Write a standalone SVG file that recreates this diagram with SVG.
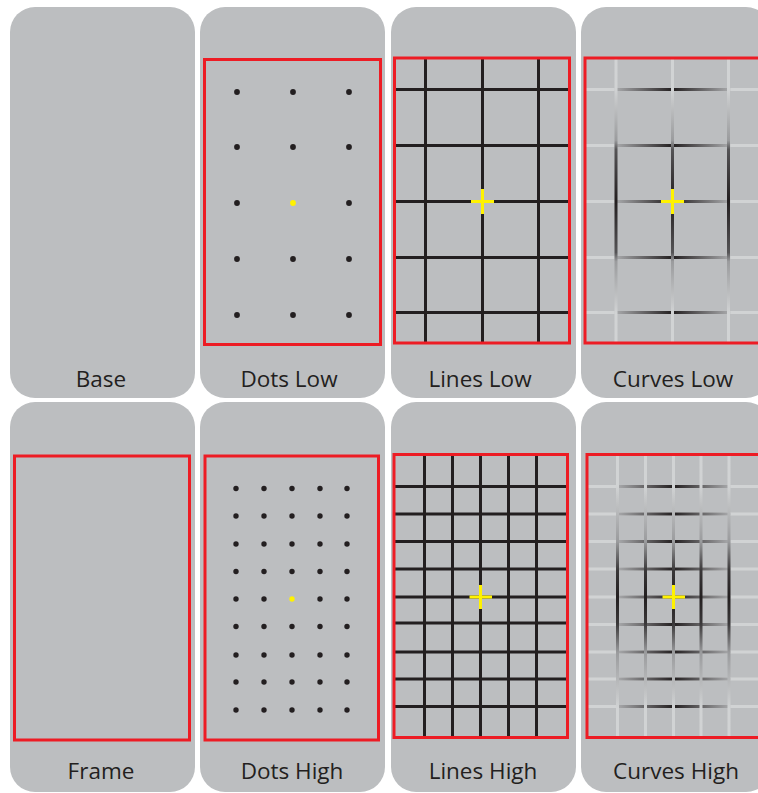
<svg xmlns="http://www.w3.org/2000/svg" width="758" height="793" viewBox="0 0 758 793">
<style>
.panel{fill:#BCBEC0}
.frame{fill:none;stroke:#ED1C24;stroke-width:3}
.lbl{font-family:"Open Sans","Noto Sans","Liberation Sans",sans-serif;font-size:22.5px;fill:#231F20;text-anchor:middle}
.dot{fill:#231F20}
.ydot{fill:#FFF200}
.ln{stroke:#231F20;stroke-width:3;fill:none}
.cross{stroke:#FFF200;stroke-width:3;fill:none}
</style>
<defs>
<linearGradient id="hLow" gradientUnits="userSpaceOnUse" x1="614" y1="0" x2="731" y2="0">
<stop offset="0" stop-color="#D1D3D4"/><stop offset="0.03" stop-color="#A4A5A7"/><stop offset="0.5" stop-color="#231F20"/><stop offset="0.97" stop-color="#A4A5A7"/><stop offset="1" stop-color="#D1D3D4"/>
</linearGradient>
<linearGradient id="vLow" gradientUnits="userSpaceOnUse" x1="0" y1="89" x2="0" y2="313">
<stop offset="0" stop-color="#D1D3D4"/><stop offset="0.23" stop-color="#9A9B9D"/><stop offset="0.27" stop-color="#555456"/><stop offset="0.5" stop-color="#231F20"/><stop offset="0.73" stop-color="#555456"/><stop offset="0.77" stop-color="#9A9B9D"/><stop offset="1" stop-color="#D1D3D4"/>
</linearGradient>
<linearGradient id="hHigh" gradientUnits="userSpaceOnUse" x1="616" y1="0" x2="731" y2="0">
<stop offset="0" stop-color="#D1D3D4"/><stop offset="0.03" stop-color="#A4A5A7"/><stop offset="0.5" stop-color="#231F20"/><stop offset="0.97" stop-color="#A4A5A7"/><stop offset="1" stop-color="#D1D3D4"/>
</linearGradient>
<linearGradient id="vHigh" gradientUnits="userSpaceOnUse" x1="0" y1="486" x2="0" y2="708">
<stop offset="0" stop-color="#D1D3D4"/><stop offset="0.25" stop-color="#9A9B9D"/><stop offset="0.38" stop-color="#3A3839"/><stop offset="0.5" stop-color="#231F20"/><stop offset="0.62" stop-color="#3A3839"/><stop offset="0.75" stop-color="#9A9B9D"/><stop offset="1" stop-color="#D1D3D4"/>
</linearGradient>
</defs>
<rect width="758" height="793" fill="#FFFFFF"/>

<g id="base">
<rect class="panel" x="10" y="7" width="185" height="391" rx="25"/>
<text class="lbl" x="101" y="387">Base</text>
</g>

<g id="dots-low">
<rect class="panel" x="200" y="7" width="185" height="391" rx="25"/>
<rect class="frame" x="204.5" y="59.5" width="176" height="285"/>
<g>
<circle class="dot" cx="237" cy="92" r="2.9"/><circle class="dot" cx="293" cy="92" r="2.9"/><circle class="dot" cx="349" cy="92" r="2.9"/>
<circle class="dot" cx="237" cy="147" r="2.9"/><circle class="dot" cx="293" cy="147" r="2.9"/><circle class="dot" cx="349" cy="147" r="2.9"/>
<circle class="dot" cx="237" cy="203" r="2.9"/><circle class="ydot" cx="293" cy="203" r="2.9"/><circle class="dot" cx="349" cy="203" r="2.9"/>
<circle class="dot" cx="237" cy="259" r="2.9"/><circle class="dot" cx="293" cy="259" r="2.9"/><circle class="dot" cx="349" cy="259" r="2.9"/>
<circle class="dot" cx="237" cy="315" r="2.9"/><circle class="dot" cx="293" cy="315" r="2.9"/><circle class="dot" cx="349" cy="315" r="2.9"/>
</g>
<text class="lbl" x="289" y="387">Dots Low</text>
</g>

<g id="lines-low">
<rect class="panel" x="391" y="7" width="185" height="391" rx="25"/>
<path class="ln" d="M425.5 58V343M482.5 58V343M538.5 58V343M396 89.5H570M396 145.5H570M396 201.5H570M396 257.5H570M396 312.5H570"/>
<path class="cross" d="M471 201.5H494M482.5 189V214"/>
<rect class="frame" x="394.5" y="58" width="175" height="285"/>
<text class="lbl" x="480" y="387">Lines Low</text>
</g>

<g id="curves-low">
<rect class="panel" x="581" y="7" width="190" height="391" rx="25"/>
<g stroke-width="3" fill="none">
<path stroke="#D1D3D4" d="M585 89.5H760M585 145.5H760M585 201.5H760M585 257.5H760M585 312.5H760"/>
<path stroke="url(#hLow)" d="M614 89.5H731M614 145.5H731M614 201.5H731M614 257.5H731M614 312.5H731"/>
<path stroke="url(#vLow)" d="M616 58V343M672.5 58V343M728.5 58V343"/>
</g>
<path class="cross" d="M661 201.5H684M672.5 189V214"/>
<rect class="frame" x="585" y="58" width="185" height="285"/>
<text class="lbl" x="673" y="387">Curves Low</text>
</g>

<g id="frame">
<rect class="panel" x="10" y="402" width="185" height="390" rx="25"/>
<rect class="frame" x="14.5" y="456" width="175" height="284"/>
<text class="lbl" x="101" y="779">Frame</text>
</g>

<g id="dots-high">
<rect class="panel" x="200" y="402" width="185" height="390" rx="25"/>
<rect class="frame" x="205" y="456" width="173.5" height="284"/>
<g>
<circle class="dot" cx="236" cy="488.5" r="2.7"/><circle class="dot" cx="264" cy="488.5" r="2.7"/><circle class="dot" cx="292" cy="488.5" r="2.7"/><circle class="dot" cx="320" cy="488.5" r="2.7"/><circle class="dot" cx="347" cy="488.5" r="2.7"/>
<circle class="dot" cx="236" cy="516" r="2.7"/><circle class="dot" cx="264" cy="516" r="2.7"/><circle class="dot" cx="292" cy="516" r="2.7"/><circle class="dot" cx="320" cy="516" r="2.7"/><circle class="dot" cx="347" cy="516" r="2.7"/>
<circle class="dot" cx="236" cy="544" r="2.7"/><circle class="dot" cx="264" cy="544" r="2.7"/><circle class="dot" cx="292" cy="544" r="2.7"/><circle class="dot" cx="320" cy="544" r="2.7"/><circle class="dot" cx="347" cy="544" r="2.7"/>
<circle class="dot" cx="236" cy="571.5" r="2.7"/><circle class="dot" cx="264" cy="571.5" r="2.7"/><circle class="dot" cx="292" cy="571.5" r="2.7"/><circle class="dot" cx="320" cy="571.5" r="2.7"/><circle class="dot" cx="347" cy="571.5" r="2.7"/>
<circle class="dot" cx="236" cy="599" r="2.7"/><circle class="dot" cx="264" cy="599" r="2.7"/><circle class="ydot" cx="292" cy="599" r="2.7"/><circle class="dot" cx="320" cy="599" r="2.7"/><circle class="dot" cx="347" cy="599" r="2.7"/>
<circle class="dot" cx="236" cy="626.5" r="2.7"/><circle class="dot" cx="264" cy="626.5" r="2.7"/><circle class="dot" cx="292" cy="626.5" r="2.7"/><circle class="dot" cx="320" cy="626.5" r="2.7"/><circle class="dot" cx="347" cy="626.5" r="2.7"/>
<circle class="dot" cx="236" cy="655" r="2.7"/><circle class="dot" cx="264" cy="655" r="2.7"/><circle class="dot" cx="292" cy="655" r="2.7"/><circle class="dot" cx="320" cy="655" r="2.7"/><circle class="dot" cx="347" cy="655" r="2.7"/>
<circle class="dot" cx="236" cy="682" r="2.7"/><circle class="dot" cx="264" cy="682" r="2.7"/><circle class="dot" cx="292" cy="682" r="2.7"/><circle class="dot" cx="320" cy="682" r="2.7"/><circle class="dot" cx="347" cy="682" r="2.7"/>
<circle class="dot" cx="236" cy="710" r="2.7"/><circle class="dot" cx="264" cy="710" r="2.7"/><circle class="dot" cx="292" cy="710" r="2.7"/><circle class="dot" cx="320" cy="710" r="2.7"/><circle class="dot" cx="347" cy="710" r="2.7"/>
</g>
<text class="lbl" x="292" y="779">Dots High</text>
</g>

<g id="lines-high">
<rect class="panel" x="391" y="402" width="185" height="390" rx="25"/>
<path class="ln" d="M424.5 455V737M452.5 455V737M480.5 455V737M508.5 455V737M536.5 455V737M394 486.5H567M394 514H567M394 541.5H567M394 569H567M394 597H567M394 623H567M394 652H567M394 679H567M394 706.5H567"/>
<path class="cross" d="M469.5 597H492M480.5 585V609"/>
<rect class="frame" x="394" y="454.5" width="173.5" height="283"/>
<text class="lbl" x="483" y="779">Lines High</text>
</g>

<g id="curves-high">
<rect class="panel" x="581" y="402" width="190" height="390" rx="25"/>
<g stroke-width="3" fill="none">
<path stroke="#D1D3D4" d="M587 486.5H760M587 514H760M587 541.5H760M587 569H760M587 597H760M587 624.5H760M587 652H760M587 679H760M587 706.5H760"/>
<path stroke="url(#hHigh)" d="M616 486.5H731M616 514H731M616 541.5H731M616 569H731M616 597H731M616 624.5H731M616 652H731M616 679H731M616 706.5H731"/>
<path stroke="url(#vHigh)" d="M617.5 455V737M645.5 455V737M673.5 455V737M701 455V737M729 455V737"/>
</g>
<path class="cross" d="M662.5 597H685M673.5 585V609"/>
<rect class="frame" x="587" y="454.5" width="180" height="283"/>
<text class="lbl" x="676" y="779">Curves High</text>
</g>
</svg>
